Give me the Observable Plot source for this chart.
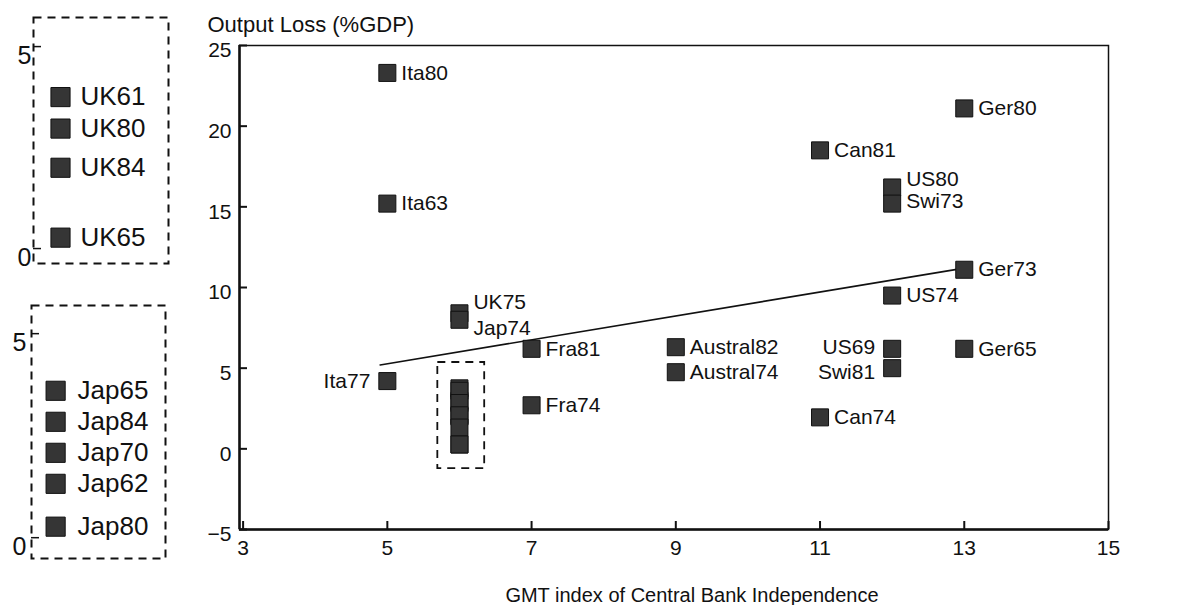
<!DOCTYPE html>
<html><head><meta charset="utf-8">
<script src="https://cdn.jsdelivr.net/npm/d3@7"></script>
<script src="https://cdn.jsdelivr.net/npm/@observablehq/plot@0.6"></script>
<style>
html,body{margin:0;padding:0;background:#fff;}
#wrap{position:relative;width:1189px;height:605px;overflow:hidden;}
#wrap > div{position:absolute;}
#main g[aria-label$="tick label"], #main g[aria-label$="tick label"] text{font-size:21px !important;}
#uk g[aria-label$="tick label"], #uk g[aria-label$="tick label"] text,
#jap g[aria-label$="tick label"], #jap g[aria-label$="tick label"] text{font-size:25px !important;}
</style></head><body>
<div id="wrap"><div id="main" style="left:0;top:0"></div><div id="uk" style="left:0;top:0"></div><div id="jap" style="left:0;top:280px"></div></div>
<script>
// ---- data ----
const labels     = ["Ita80","Ita63","Ita77","UK75","Jap74","Fra81","Fra74","Austral82","Austral74","Can81","Can74","US80","Swi73","US74","US69","Swi81","Ger80","Ger73","Ger65"];
const gmtIndex   = [5, 5, 5, 6, 6, 7, 7, 9, 9, 11, 11, 12, 12, 12, 12, 12, 13, 13, 13];
const outputLoss = [23.3, 15.2, 4.2, 8.4, 8.0, 6.2, 2.7, 6.3, 4.75, 18.5, 1.95, 16.2, 15.2, 9.5, 6.2, 5.0, 21.1, 11.1, 6.2];
const ukLabels  = ["UK61","UK80","UK84","UK65"];
const ukLoss    = [3.75, 2.97, 2.0, 0.27];
const japLabels = ["Jap65","Jap84","Jap70","Jap62","Jap80"];
const japLoss   = [3.6, 2.84, 2.08, 1.32, 0.27];
const clusterIndex = 6;
const regX = [4.9, 13];
const regY = [5.2, 11.2];
const xTicks = [3, 5, 7, 9, 11, 13, 15];
const yTicks = [-5, 0, 5, 10, 15, 20, 25];
const insetTicks = [0, 5];
const yTitle = "Output Loss (%GDP)";
const xTitle = "GMT index of Central Bank Independence";

// ---- build tables ----
const pts = labels.map((l, i) => ({label: l, x: gmtIndex[i], y: outputLoss[i]}));
const ukPts = ukLabels.map((l, i) => ({label: l, x: clusterIndex, y: ukLoss[i]}));
const japPts = japLabels.map((l, i) => ({label: l, x: clusterIndex, y: japLoss[i]}));
const cluster = [...ukPts, ...japPts];
const reg = regX.map((x, i) => ({x, y: regY[i]}));
const cy = cluster.map(d => d.y);
const clusterBox = [{x1: clusterIndex - 0.3, x2: clusterIndex + 0.35, y1: d3.min(cy) - 1.5, y2: d3.max(cy) + 1.6}];

const leftSide = new Set(["Ita77", "US69", "Swi81"]);
const nudge = {UK75: -11, Jap74: 8, US80: -8, Swi73: -2, US69: -2, Swi81: 4};
const FONT = '"Liberation Sans", Arial, Helvetica, sans-serif';
const INK = "#111";
const sq = {symbol: "square", fill: "#353535", stroke: INK, strokeWidth: 1};
const xDomain = [2.95, 15];
const yDomain = [-5, 25];

const rightPts = pts.filter(d => !leftSide.has(d.label));
const leftPts = pts.filter(d => leftSide.has(d.label));

const main = Plot.plot({
  width: 1189, height: 605,
  marginLeft: 239, marginRight: 81, marginTop: 45, marginBottom: 76,
  style: {fontFamily: FONT, fontSize: "21px", color: INK, background: "transparent", overflow: "visible"},
  x: {domain: xDomain},
  y: {domain: yDomain},
  marks: [
    Plot.frame({stroke: INK, strokeWidth: 1.5}),
    Plot.ruleX([xDomain[0]], {stroke: INK, strokeWidth: 2.5}),
    Plot.ruleY([yDomain[0]], {stroke: INK, strokeWidth: 2.5}),
    Plot.axisX({ticks: xTicks, tickSize: -8, tickPadding: 19, label: null, strokeWidth: 2}),
    Plot.axisY({ticks: yTicks, tickSize: -8, tickFormat: () => "", label: null, strokeWidth: 2}),
    Plot.axisY({ticks: yTicks, tickSize: 0, tickPadding: 8, label: null, dy: 5}),
    Plot.line(reg, {x: "x", y: "y", stroke: INK, strokeWidth: 1.6}),
    Plot.rect(clusterBox, {x1: "x1", x2: "x2", y1: "y1", y2: "y2", fill: "none", stroke: INK, strokeWidth: 1.8, strokeDasharray: "8,6"}),
    Plot.dot(cluster, {x: "x", y: "y", r: 9.6, ...sq}),
    Plot.dot(pts, {x: "x", y: "y", r: 9.6, ...sq}),
    ...rightPts.map(d => Plot.text([d], {x: "x", y: "y", text: "label", fill: INK, fontSize: 21,
      textAnchor: "start", dx: 14, dy: nudge[d.label] || 0})),
    ...leftPts.map(d => Plot.text([d], {x: "x", y: "y", text: "label", fill: INK, fontSize: 21,
      textAnchor: "end", dx: -17, dy: nudge[d.label] || 0})),
    Plot.text([yTitle], {frameAnchor: "top-left", lineAnchor: "middle", textAnchor: "start", dx: -32, dy: -21, fontSize: 22, fill: INK}),
    Plot.text([xTitle], {frameAnchor: "bottom", lineAnchor: "middle", dx: 18, dy: 66, fontSize: 20, fill: INK})
  ]
});
document.getElementById("main").appendChild(main);

function inset(data, o) {
  return Plot.plot({
    width: 200, height: o.height,
    marginLeft: o.left, marginRight: 200 - o.right, marginTop: o.top, marginBottom: o.height - o.bottom,
    style: {fontFamily: FONT, fontSize: "25px", color: INK, background: "transparent", overflow: "visible"},
    x: {domain: o.xDomain, axis: null},
    y: {domain: o.yDomain},
    marks: [
      Plot.frame({stroke: INK, strokeWidth: 2, strokeDasharray: "8,6"}),
      Plot.axisY({ticks: insetTicks, tickSize: -8, tickFormat: () => "", label: null, strokeWidth: 1.5}),
      Plot.axisY({ticks: insetTicks, tickSize: 0, tickPadding: o.pad, tickFormat: d3.format("d"), label: null, dy: 9}),
      Plot.dot(data, {x: "x", y: "y", r: 10.8, ...sq}),
      Plot.text(data, {x: "x", y: "y", text: "label", fill: INK, fontSize: 26, textAnchor: "start", dx: o.dx})
    ]
  });
}
document.getElementById("uk").appendChild(inset(ukPts, {height: 280, left: 33, right: 168, top: 17, bottom: 263,
  xDomain: [5.8, 6.8], yDomain: [-0.37, 5.72], pad: 2, dx: 20}));
document.getElementById("jap").appendChild(inset(japPts, {height: 300, left: 31, right: 165, top: 25, bottom: 278,
  xDomain: [5.82, 6.82], yDomain: [-0.51, 5.69], pad: 5, dx: 22}));
</script>
</body></html>
